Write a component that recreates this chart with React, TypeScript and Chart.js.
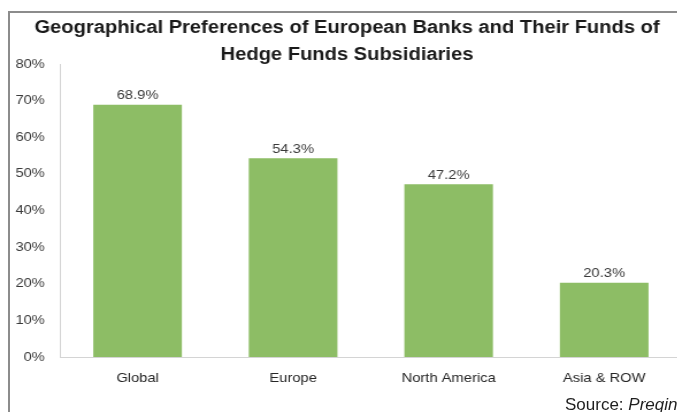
import React, { useEffect, useRef } from "react";
import { Chart, registerables } from "chart.js";

Chart.register(...registerables);

const categories = ["Global", "Europe", "North America", "Asia & ROW"];
const values = [68.9, 54.3, 47.2, 20.3];
const yMin = 0;
const yMax = 80;
const yStep = 10;
const titleLines = [
  "Geographical Preferences of European Banks and Their Funds of",
  "Hedge Funds Subsidiaries",
];
const sourcePrefix = "Source: ";
const sourceName = "Preqin";

const SX = 1.15; // horizontal stretch of the reference image
const DISPLAY_W = 690;
const H = 412;
const W = Math.round(DISPLAY_W / SX);
const FONT = "'Liberation Sans', Arial, Helvetica, sans-serif";

const labelPlugin = {
  id: "titleAndLabels",
  afterDraw(chart: any) {
    const ctx = chart.ctx;
    ctx.save();
    // title
    ctx.fillStyle = "#1a1a1a";
    ctx.font = `bold 17.5px ${FONT}`;
    ctx.textAlign = "center";
    ctx.textBaseline = "alphabetic";
    const cx = 347 / SX;
    ctx.fillText(titleLines[0], cx, 33);
    ctx.fillText(titleLines[1], cx, 59.5);
    // data labels
    ctx.fillStyle = "#3a3a3a";
    ctx.font = `12.8px ${FONT}`;
    const meta = chart.getDatasetMeta(0);
    meta.data.forEach((bar: any, i: number) => {
      ctx.fillText(values[i].toFixed(1) + "%", bar.x, bar.y - 5.5);
    });
    ctx.restore();
  },
};

export default function App() {
  const ref = useRef<HTMLCanvasElement | null>(null);
  useEffect(() => {
    if (!ref.current) return;
    const chart = new Chart(ref.current, {
      type: "bar",
      data: {
        labels: categories,
        datasets: [
          {
            data: values,
            backgroundColor: "#8dbd65",
            barPercentage: 0.57,
            categoryPercentage: 1,
          },
        ],
      },
      options: {
        responsive: false,
        animation: false,
        devicePixelRatio: 1,
        layout: { padding: { top: 64, left: 0, right: 7, bottom: 0 } },
        plugins: { legend: { display: false }, tooltip: { enabled: false }, title: { display: false } },
        scales: {
          y: {
            min: yMin,
            max: yMax,
            ticks: {
              stepSize: yStep,
              callback: (v: any) => v + "%",
              font: { family: FONT, size: 12.8 },
              color: "#3a3a3a",
              padding: 13,
            },
            grid: { display: false, drawTicks: false },
            border: { display: true, color: "#d4d4d4", width: 1 },
            afterFit: (s: any) => {
              s.width = 52;
            },
          },
          x: {
            ticks: {
              font: { family: FONT, size: 12.8 },
              color: "#262626",
              padding: 14,
            },
            grid: { display: false, drawTicks: false },
            border: { display: true, color: "#d4d4d4", width: 1 },
            afterFit: (s: any) => {
              s.height = 55;
            },
          },
        },
      },
      plugins: [labelPlugin],
    });
    return () => chart.destroy();
  }, []);

  return (
    <div
      style={{
        position: "fixed",
        left: 0,
        top: 0,
        width: 677,
        height: 412,
        overflow: "hidden",
        background: "#fff",
      }}
    >
      <canvas
        ref={ref}
        width={W}
        height={H}
        style={{ position: "absolute", left: 0, top: 0, width: DISPLAY_W + "px", height: H + "px" }}
      />
      <div
        style={{
          position: "absolute",
          left: 8,
          top: 11,
          width: 800,
          height: 500,
          border: "2px solid #8c8c8c",
          pointerEvents: "none",
        }}
      />
      <div
        style={{
          position: "absolute",
          left: 565,
          top: 396,
          fontFamily: FONT,
          fontSize: 17,
          lineHeight: "17px",
          color: "#1f1f1f",
          whiteSpace: "nowrap",
        }}
      >
        {sourcePrefix}
        <i>{sourceName}</i>
      </div>
    </div>
  );
}
